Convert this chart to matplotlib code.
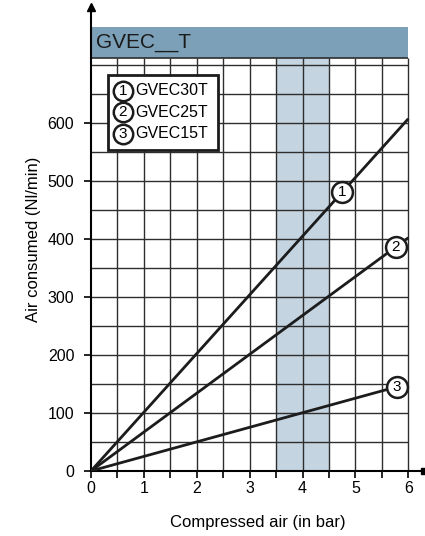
import numpy as np
import matplotlib
matplotlib.use('Agg')
import matplotlib.pyplot as plt
from matplotlib.patches import Rectangle

plt.rcParams['font.family'] = ['Liberation Sans Narrow', 'Liberation Sans', 'DejaVu Sans']

# curve data: (pressure bar, air consumed Nl/min)
series_ids = ['1', '2', '3']
series_names = ['GVEC30T', 'GVEC25T', 'GVEC15T']
x_end = [6.0, 6.0, 5.78]
y_end = [607, 402, 145]
marker_x = [4.75, 5.76, 5.78]

x_ticks = [0, 1, 2, 3, 4, 5, 6]
y_ticks = [0, 100, 200, 300, 400, 500, 600]
band_range = (3.5, 4.5)
header_text = 'GVEC__T'

LINE_C = '#1c1c1c'
GRID_C = '#2e2e2e'

fig = plt.figure(figsize=(4.25, 5.36), dpi=100)
ax = fig.add_axes([0.214, 0.1213, 0.784, 0.866])
ax.set_xlim(0, 6.3)
ax.set_ylim(0, 800)

grid_top = 712
header_top = 765

# shaded band
ax.add_patch(Rectangle((band_range[0], 0), band_range[1] - band_range[0], grid_top,
                       facecolor='#c4d4e1', edgecolor='none', zorder=0))

# grid
ax.vlines(np.arange(0.5, 6.01, 0.5), 0, grid_top, color=GRID_C, lw=1.0, zorder=1)
ax.hlines(np.arange(50, 701, 50), 0, 6, color=GRID_C, lw=1.0, zorder=1)

# header band
ax.add_patch(Rectangle((0, grid_top), 6, header_top - grid_top,
                       facecolor='#7ba0b8', edgecolor='none', zorder=2))
ax.hlines(grid_top, 0, 6, color=GRID_C, lw=1.2, zorder=3)
ax.text(0.1, (grid_top + header_top) / 2, header_text, fontsize=15,
        va='center', ha='left', color='#1a1a1a', zorder=4)

# curves
for sid, xe, ye, mx in zip(series_ids, x_end, y_end, marker_x):
    ax.plot([0, xe], [0, ye], color=LINE_C, lw=2.0, zorder=5, solid_capstyle='butt')
    my = ye / xe * mx
    ax.plot([mx], [my], marker='o', ms=15, mfc='white', mec=LINE_C, mew=1.8, zorder=6)
    ax.text(mx, my, sid, fontsize=11, ha='center', va='center', zorder=7)

# legend box
ax.add_patch(Rectangle((0.32, 553), 2.08, 129, facecolor='white', edgecolor=LINE_C,
                       lw=2.0, zorder=6))
for i, (sid, name) in enumerate(zip(series_ids, series_names)):
    ly = 655 - i * 37
    ax.plot([0.6], [ly], marker='o', ms=14, mfc='white', mec=LINE_C, mew=1.8, zorder=7)
    ax.text(0.6, ly, sid, fontsize=11, ha='center', va='center', zorder=8)
    ax.text(0.83, ly, name, fontsize=11.5, ha='left', va='center', zorder=8)

# axes / spines
for s in ['top', 'right']:
    ax.spines[s].set_visible(False)
ax.spines['left'].set_linewidth(1.5)
ax.spines['bottom'].set_linewidth(1.5)
ax.spines['left'].set_zorder(4)
ax.spines['bottom'].set_zorder(4)
ax.plot([0], [800], marker='^', ms=6, color='black', clip_on=False, zorder=8)
ax.plot([6.3], [0], marker='s', ms=4, color='black', clip_on=False, zorder=8)

ax.set_xticks(x_ticks)
ax.set_xticks(np.arange(0.5, 6.01, 1.0), minor=True)
ax.set_yticks(y_ticks)
ax.tick_params(axis='x', which='both', length=5, width=1.2, labelsize=11.5, pad=2)
ax.tick_params(axis='y', length=5, width=1.2, labelsize=11.5, pad=7)

ax.set_xlabel('Compressed air (in bar)', fontsize=12, labelpad=14)
ax.set_ylabel('Air consumed (Nl/min)', fontsize=12, labelpad=5)

plt.savefig('out.png', dpi=100)
